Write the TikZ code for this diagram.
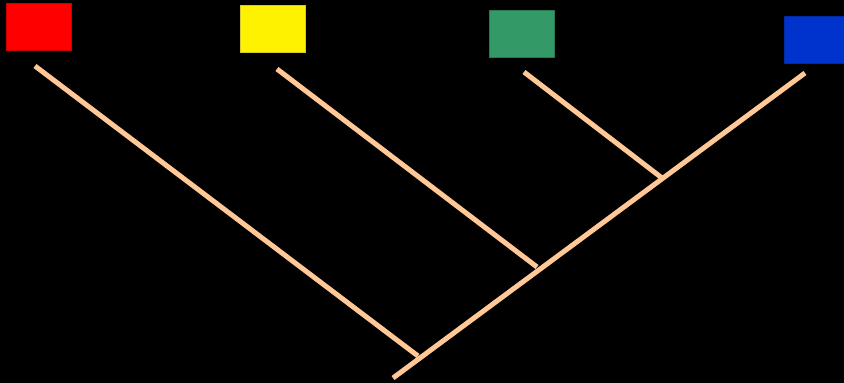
\documentclass[tikz,border=0pt]{standalone}
\definecolor{branch}{RGB}{255,200,150}
\definecolor{taxgreen}{RGB}{51,153,102}
\definecolor{taxblue}{RGB}{0,51,204}
\begin{document}
\begin{tikzpicture}[
  x=1pt, y=-1pt,
  tax/.style={draw=#1!80!black, fill=#1, line width=0.6pt, minimum width=65pt, minimum height=47pt, inner sep=0pt},
  br/.style={draw=branch, line width=5pt}
]
\fill[black] (0,0) rectangle (844,383);
\useasboundingbox (0,0) rectangle (844,383);
% taxa at the top
\node[tax=red] (red) at (38.5,26.5) {};
\node[tax=yellow] (yellow) at (272.5,28.5) {};
\node[tax=taxgreen] (green) at (521.5,33.5) {};
\node[tax=taxblue] (blue) at (816.5,39.5) {};

% tips and junctions of the tree
\coordinate (tred) at (35,66);
\coordinate (tyellow) at (277,69);
\coordinate (tgreen) at (524,72);
\coordinate (tblue) at (805,73);
\coordinate (jgreen) at (662,178);
\coordinate (jyellow) at (537,267);
\coordinate (jred) at (418,356);
\coordinate (root) at (393,378);

% branches
\draw[br] (tred)--(jred);
\draw[br] (tyellow)--(jyellow);
\draw[br] (tgreen)--(jgreen);
\draw[br] (tblue)--(root);

\end{tikzpicture}
\end{document}
